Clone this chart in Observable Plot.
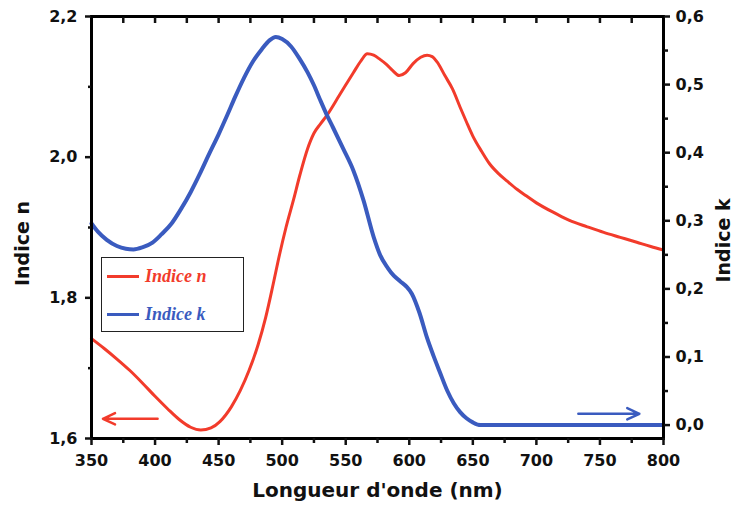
<!DOCTYPE html>
<html>
<head>
<meta charset="utf-8">
<script src="https://cdn.jsdelivr.net/npm/d3@7"></script>
<script src="https://cdn.jsdelivr.net/npm/@observablehq/plot@0.6"></script>
<style>
  html, body { margin: 0; padding: 0; background: #fff; }
  #wrap { position: relative; width: 736px; height: 515px; }
  #legend { position: absolute; left: 101px; top: 257px; width: 143px; height: 75px;
            border: 1px solid #222; box-sizing: border-box; background: #fff; }
  .lg-line { position: absolute; left: 5px; width: 32px; height: 3px; }
  .lg-text { position: absolute; left: 43px; font-family: "Liberation Serif", serif;
             font-weight: bold; font-style: italic; font-size: 18px; line-height: 18px; }
</style>
</head>
<body>
<div id="wrap">
  <div id="chart"></div>
  <div id="legend"></div>
</div>
<script>
// ---- data ----
const nWave = [350,360,370,380,390,400,410,419,428,436,444,451,460,467,474,481,487,493,498,503,509,514,520,525,530,535,545,556,562,567,572,577,582,587,592,597,603,609,614,618,622,628,634,640,645,650,657,663,670,677,685,692,700,715,726,740,753,766,779,790,800];
const nVal  = [1.742,1.728,1.713,1.697,1.679,1.660,1.642,1.627,1.616,1.612,1.615,1.624,1.645,1.668,1.697,1.733,1.772,1.820,1.862,1.900,1.940,1.975,2.012,2.034,2.047,2.059,2.088,2.120,2.137,2.147,2.145,2.139,2.132,2.123,2.116,2.120,2.133,2.142,2.145,2.143,2.135,2.116,2.097,2.071,2.050,2.030,2.008,1.991,1.977,1.966,1.954,1.945,1.935,1.920,1.910,1.901,1.893,1.886,1.879,1.873,1.868];

const kWave = [350,355,362,370,377,383,390,398,405,413,420,428,435,442,450,457,463,470,477,484,490,495,500,507,514,520,525,530,535,540,548,556,564,572,577,583,588,593,598,602,608,614,619,624,630,635,640,645,650,656,700,750,800];
const kVal  = [0.296,0.284,0.272,0.263,0.259,0.258,0.261,0.268,0.280,0.296,0.316,0.342,0.368,0.396,0.427,0.456,0.482,0.510,0.534,0.552,0.565,0.570,0.567,0.556,0.537,0.518,0.499,0.477,0.456,0.437,0.406,0.374,0.330,0.276,0.250,0.231,0.219,0.211,0.203,0.193,0.165,0.128,0.102,0.078,0.050,0.032,0.019,0.010,0.004,0.0,0.0,0.0,0.0];

const xTicks = [350,400,450,500,550,600,650,700,750,800];
const xMinor = [375,425,475,525,575,625,675,725,775];
const xTop   = [375,400,425,450,475,500,525,550,575,600,625,650,675,700,725,750,775];
const nTicks = [1.6,1.8,2.0,2.2];
const nMinor = [1.7,1.9,2.1];
const kTicks = [0.0,0.1,0.2,0.3,0.4,0.5,0.6];
const kMinor = [0.05,0.15,0.25,0.35,0.45,0.55];

const arrowsN = [{x1: 402, x2: 359, n: 1.628}];      // arrow pointing to left axis
const arrowsK = [{x1: 733, x2: 781, k: 0.0166}];     // arrow pointing to right axis

const RED = "#f23b2b", BLUE = "#3a5bbf";
const N0 = 1.6, N1 = 2.2, KMIN = -0.0197, KMAX = 0.6;
const toN = k => N0 + (k - KMIN) * (N1 - N0) / (KMAX - KMIN);
const toK = n => KMIN + (n - N0) * (KMAX - KMIN) / (N1 - N0);
const comma = v => v.toFixed(1).replace(".", ",").replace("-0,0", "0,0");

const nData = nWave.map((w, i) => ({w, v: nVal[i]}));
const kData = kWave.map((w, i) => ({w, v: toN(kVal[i])}));

const chart = Plot.plot({
  width: 736, height: 515,
  marginLeft: 91, marginRight: 73, marginTop: 16, marginBottom: 77,
  x: {domain: [350, 800]},
  y: {domain: [N0, N1]},
  style: {fontFamily: "DejaVu Sans", fontWeight: "bold", fontSize: "16px", color: "#111", background: "#fff"},
  marks: [
    Plot.line(nData, {x: "w", y: "v", stroke: RED, strokeWidth: 3, curve: "monotone-x"}),
    Plot.line(kData, {x: "w", y: "v", stroke: BLUE, strokeWidth: 4, curve: "monotone-x"}),
    Plot.arrow(arrowsN, {x1: "x1", x2: "x2", y1: "n", y2: "n", stroke: RED, strokeWidth: 2.5, headLength: 8, headAngle: 50}),
    Plot.arrow(arrowsK, {x1: "x1", x2: "x2", y1: d => toN(d.k), y2: d => toN(d.k), stroke: BLUE, strokeWidth: 2.5, headLength: 8, headAngle: 50}),
    Plot.frame({stroke: "#000", strokeWidth: 3}),
    Plot.axisX(xTicks, {tickSize: 7, tickPadding: 9, strokeWidth: 2.5, tickFormat: d => String(d), label: null}),
    Plot.axisX(xMinor, {tickSize: 5, strokeWidth: 2.5, tickFormat: () => "", label: null}),
    Plot.axisX(xTop, {anchor: "top", tickSize: -6, strokeWidth: 2.5, tickFormat: () => "", label: null}),
    Plot.axisY(nTicks, {tickSize: 6, tickPadding: 8, strokeWidth: 2.5, tickFormat: comma, label: null}),
    Plot.axisY(nMinor, {tickSize: 3, strokeWidth: 2.5, tickFormat: () => "", label: null}),
    Plot.axisY(kTicks.map(toN), {anchor: "right", tickSize: 6, tickPadding: 6, strokeWidth: 2.5, tickFormat: d => comma(toK(d)), label: null}),
    Plot.axisY(kMinor.map(toN), {anchor: "right", tickSize: 4, strokeWidth: 2.5, tickFormat: () => "", label: null}),
    Plot.text(["Indice n"], {frameAnchor: "left", textAnchor: "middle", lineAnchor: "middle", text: d => d, rotate: -90, dx: -69, dy: 16, fontSize: 19, fontWeight: "bold", fill: "#111"}),
    Plot.text(["Indice k"], {frameAnchor: "right", textAnchor: "middle", lineAnchor: "middle", text: d => d, rotate: -90, dx: 60, dy: 13, fontSize: 19, fontWeight: "bold", fill: "#111"}),
    Plot.text(["Longueur d'onde (nm)"], {frameAnchor: "bottom", text: d => d, dy: 58, fontSize: 20, fontWeight: "bold", fill: "#111"})
  ]
});
document.getElementById("chart").appendChild(chart);

// legend
const legendItems = [{label: "Indice n", color: RED, top: 19}, {label: "Indice k", color: BLUE, top: 57}];
const lg = document.getElementById("legend");
legendItems.forEach(it => {
  const l = document.createElement("div");
  l.className = "lg-line"; l.style.top = (it.top - 2) + "px"; l.style.background = it.color;
  const t = document.createElement("div");
  t.className = "lg-text"; t.style.top = (it.top - 10) + "px"; t.style.color = it.color; t.textContent = it.label;
  lg.appendChild(l); lg.appendChild(t);
});
</script>
</body>
</html>
